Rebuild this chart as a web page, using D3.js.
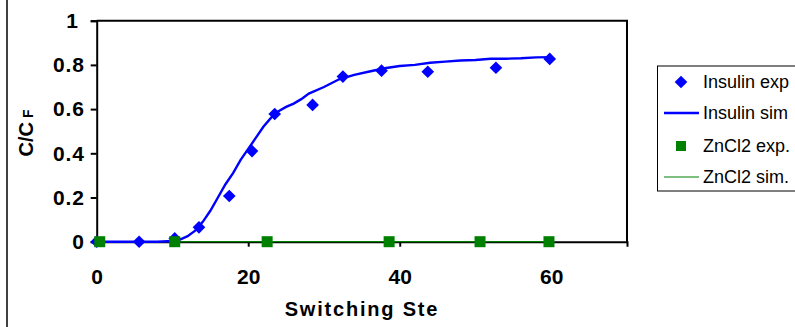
<!DOCTYPE html>
<html>
<head>
<meta charset="utf-8">
<script src="https://cdn.jsdelivr.net/npm/d3@7"></script>
<style>
  body { margin: 0; background: #fff; }
  svg { display: block; font-family: Arial, "Liberation Sans", sans-serif; }
</style>
</head>
<body>
<svg id="canvas" width="795" height="327"></svg>
<script>
// donnees
let insulinExpX = [0, 5.6, 10.3, 13.5, 17.5, 20.5, 23.5, 28.5, 32.5, 37.6, 43.7, 52.7, 59.8]
let insulinExpY = [0, 0, 0.015, 0.065, 0.207, 0.41, 0.578, 0.619, 0.747, 0.774, 0.769, 0.787, 0.827]

let insulinSimX = [0, 4, 8, 10, 11, 12, 13, 14, 15, 16, 17, 18, 19, 20, 21, 22, 23, 24, 25, 26, 27, 28, 30, 32, 34, 36, 38, 40, 42, 44, 46, 48, 50, 52, 54, 56, 58, 60]
let insulinSimY = [0, 0, 0, 0.003, 0.01, 0.025, 0.05, 0.09, 0.14, 0.2, 0.26, 0.31, 0.37, 0.42, 0.47, 0.52, 0.56, 0.59, 0.61, 0.625, 0.645, 0.67, 0.70, 0.735, 0.755, 0.77, 0.785, 0.795, 0.80, 0.81, 0.815, 0.82, 0.822, 0.828, 0.828, 0.83, 0.834, 0.835]

let zncl2ExpX = [0.4, 10.3, 22.5, 38.6, 50.6, 59.7]
let zncl2ExpY = [0, 0, 0, 0, 0, 0]

let zncl2SimX = [0, 60]
let zncl2SimY = [0, 0]

let xTicks = [0, 20, 40, 60]
let yTicks = [0, 0.2, 0.4, 0.6, 0.8, 1]

let legendLabels = ['Insulin exp', 'Insulin sim', 'ZnCl2 exp.', 'ZnCl2 sim.']

let canvas = d3.select('#canvas')

let x = d3.scaleLinear().domain([0, 70]).range([96.7, 627])
let y = d3.scaleLinear().domain([0, 1]).range([241.7, 20.7])

// cadre exterieur (bord gauche)
canvas.append('line')
      .attr('x1', 7).attr('x2', 7).attr('y1', 0).attr('y2', 327)
      .attr('stroke', '#000').attr('stroke-width', 1.5)

// bord du plot (haut et droite)
canvas.append('path')
      .attr('d', `M${x(0)},${y(1)}H${x(70)}V${y(0)}`)
      .attr('fill', 'none').attr('stroke', '#000').attr('stroke-width', 2)

// axe x
let axeX = canvas.append('g')
      .attr('transform', `translate(0,${y(0)})`)
      .call(d3.axisBottom(x).tickValues(xTicks).tickSize(5).tickPadding(22).tickFormat(d3.format('d')))
axeX.select('.domain').attr('stroke-width', 2)
axeX.selectAll('.tick line').attr('stroke-width', 2)
axeX.selectAll('text').attr('font-size', 21).attr('font-weight', 'bold').attr('fill', '#000')
      .attr('font-family', 'Arial, "Liberation Sans", sans-serif')

// axe y
let axeY = canvas.append('g')
      .attr('transform', `translate(${x(0)},0)`)
      .call(d3.axisLeft(y).tickValues(yTicks).tickSize(6).tickPadding(6).tickFormat(d => d === 0 || d === 1 ? d3.format('d')(d) : d3.format('.1f')(d)))
axeY.select('.domain').attr('stroke-width', 2)
axeY.selectAll('.tick line').attr('stroke-width', 2)
axeY.selectAll('text').attr('font-size', 21).attr('font-weight', 'bold').attr('fill', '#000')
      .attr('letter-spacing', 0.8)
      .attr('font-family', 'Arial, "Liberation Sans", sans-serif')
// le "1" est decale a gauche dans l'original
axeY.selectAll('text').filter(d => d === 1).attr('dx', -6)

// titres
canvas.append('text')
      .attr('x', 362).attr('y', 316)
      .attr('text-anchor', 'middle')
      .attr('font-size', 20).attr('font-weight', 'bold').attr('letter-spacing', 1.8)
      .text('Switching Ste')

let titreY = canvas.append('text')
      .attr('transform', 'translate(33,133) rotate(-90)')
      .attr('text-anchor', 'middle')
      .attr('font-size', 20).attr('font-weight', 'bold')
titreY.append('tspan').text('C/C')
titreY.append('tspan').attr('font-size', 14).attr('dx', 4).attr('dy', 0).text('F')

let ligne = d3.line().x(d => x(d[0])).y(d => y(d[1]))

// ZnCl2 sim
canvas.append('path')
      .datum(d3.zip(zncl2SimX, zncl2SimY))
      .attr('d', ligne)
      .attr('fill', 'none').attr('stroke', '#008000').attr('stroke-width', 1.2)

// Insulin sim
canvas.append('path')
      .datum(d3.zip(insulinSimX, insulinSimY))
      .attr('d', ligne)
      .attr('fill', 'none').attr('stroke', '#0000ff').attr('stroke-width', 2.4)

let diamant = d3.symbol().type(d3.symbolSquare).size(80)

// Insulin exp
canvas.selectAll('.ins')
      .data(d3.zip(insulinExpX, insulinExpY))
      .enter()
      .append('path')
      .attr('class', 'ins')
      .attr('d', diamant)
      .attr('transform', d => `translate(${x(d[0])},${y(d[1])}) rotate(45)`)
      .attr('fill', '#0000ff')

// ZnCl2 exp
canvas.selectAll('.zn')
      .data(d3.zip(zncl2ExpX, zncl2ExpY))
      .enter()
      .append('rect')
      .attr('class', 'zn')
      .attr('x', d => x(d[0]) - 5.5).attr('y', d => y(d[1]) - 5.5)
      .attr('width', 11).attr('height', 11)
      .attr('fill', '#008000')

// legende
let leg = canvas.append('g')
leg.append('rect')
      .attr('x', 657.5).attr('y', 66).attr('width', 150).attr('height', 125)
      .attr('fill', '#fff').attr('stroke', '#000').attr('stroke-width', 1)

let rangs = [82, 113, 146, 177]
leg.append('path').attr('d', diamant).attr('transform', `translate(681,${rangs[0]}) rotate(45)`).attr('fill', '#0000ff')
leg.append('line').attr('x1', 664).attr('x2', 699).attr('y1', rangs[1]).attr('y2', rangs[1]).attr('stroke', '#0000ff').attr('stroke-width', 2.4)
leg.append('rect').attr('x', 676).attr('y', rangs[2] - 5).attr('width', 10).attr('height', 10).attr('fill', '#008000')
leg.append('line').attr('x1', 664).attr('x2', 699).attr('y1', rangs[3]).attr('y2', rangs[3]).attr('stroke', '#008000').attr('stroke-width', 1.2)

leg.selectAll('.lt')
      .data(legendLabels)
      .enter()
      .append('text')
      .attr('class', 'lt')
      .attr('x', 703).attr('y', (d, i) => rangs[i])
      .attr('dy', '0.35em')
      .attr('font-size', 18)
      .text(d => d)
</script>
</body>
</html>
